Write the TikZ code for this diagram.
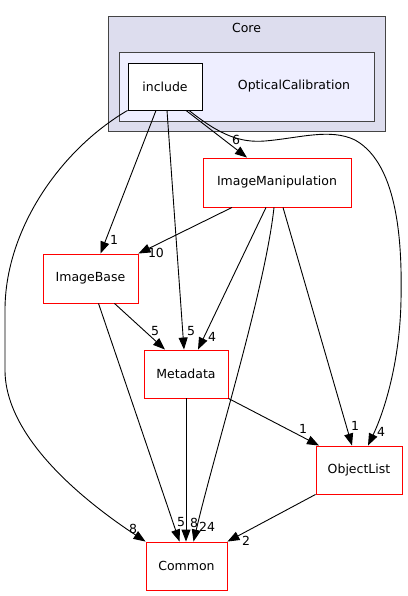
\documentclass[tikz,border=0pt]{standalone}
\usepackage{fontspec}
\setmainfont{DejaVu Sans}
\usetikzlibrary{arrows.meta}
\definecolor{coreback}{HTML}{DDDDEE}
\definecolor{calback}{HTML}{EEEEFF}
\definecolor{clusline}{HTML}{444444}
\begin{document}
\begin{tikzpicture}[x=1pt,y=-1pt,
  font=\fontsize{12.5}{14}\selectfont,
  line width=0.9pt,
  >={Triangle[length=12pt,width=9pt]},
  dir/.style={draw=red, fill=white, minimum height=48pt, inner sep=0pt},
  lbl/.style={inner sep=0pt}]
\useasboundingbox (0,0) rectangle (407,596);
% clusters
\filldraw[fill=coreback, draw=clusline] (108,16) rectangle (385,131);
\node (core) at (246.5,28) {Core};
\filldraw[fill=calback, draw=clusline] (119,52) rectangle (374,121);
\node (cal) at (294,86) {OpticalCalibration};
% directories
\node[draw, fill=white, minimum width=74pt, minimum height=47pt, inner sep=0pt] (inc) at (165,86.5) {include};
\node[dir, minimum width=148pt, minimum height=49pt] (imgm) at (277,182.5) {ImageManipulation};
\node[dir, minimum width=95pt, minimum height=49pt] (imgb) at (90.5,278.5) {ImageBase};
\node[dir, minimum width=84pt] (meta) at (186,374) {Metadata};
\node[dir, minimum width=86pt] (objl) at (359,470) {ObjectList};
\node[dir, minimum width=81pt] (comm) at (186.5,566) {Common};
% dependencies
\draw[->] (inc.south west) .. controls (60,150) and (5,230) .. (5,310) -- (5,370)
  .. controls (5,440) and (90,505) .. (comm.north west) node[lbl] at (133,529) {8};
\draw[->] ([xshift=-9pt]inc.south) -- ([xshift=10pt]imgb.north) node[lbl] at (114,240) {1};
\draw[->] ([xshift=2pt]inc.south) -- ([xshift=-2pt]meta.north) node[lbl] at (191,331) {5};
\draw[->] ([xshift=21pt]inc.south) -- ([xshift=-30pt]imgm.north) node[lbl] at (236,140) {6};
\draw[->] ([xshift=24pt]inc.south) .. controls (220,135) and (240,143) .. (265,141)
  .. controls (300,138) and (330,128) .. (355,140)
  .. controls (400,165) and (402,250) .. (401,300)
  .. controls (400,360) and (385,410) .. ([xshift=9pt]objl.north) node[lbl] at (381,432) {4};
\draw[->] ([xshift=-45pt]imgm.south) -- (imgb.north east) node[lbl] at (156,253) {10};
\draw[->] ([xshift=-11pt]imgm.south) -- ([xshift=12pt]meta.north) node[lbl] at (212,337) {4};
\draw[->] ([xshift=-3pt]imgm.south) .. controls (265,290) and (215,450) .. ([xshift=7pt]comm.north) node[lbl] at (207,527) {24};
\draw[->] ([xshift=6pt]imgm.south) -- ([xshift=-7pt]objl.north) node[lbl] at (355,426) {1};
\draw[->] ([xshift=24pt]imgb.south) -- ([xshift=-21pt]meta.north) node[lbl] at (155,331) {5};
\draw[->] ([xshift=8pt]imgb.south) -- ([xshift=-7pt]comm.north) node[lbl] at (181,522) {5};
\draw[->] (meta.south) -- (meta.south |- comm.north) node[lbl] at (194,523) {8};
\draw[->] (meta.south east) -- ([xshift=-40pt]objl.north) node[lbl] at (303,429) {1};
\draw[->] (objl.south west) -- (comm.north east) node[lbl] at (246,541) {2};
\end{tikzpicture}
\end{document}
